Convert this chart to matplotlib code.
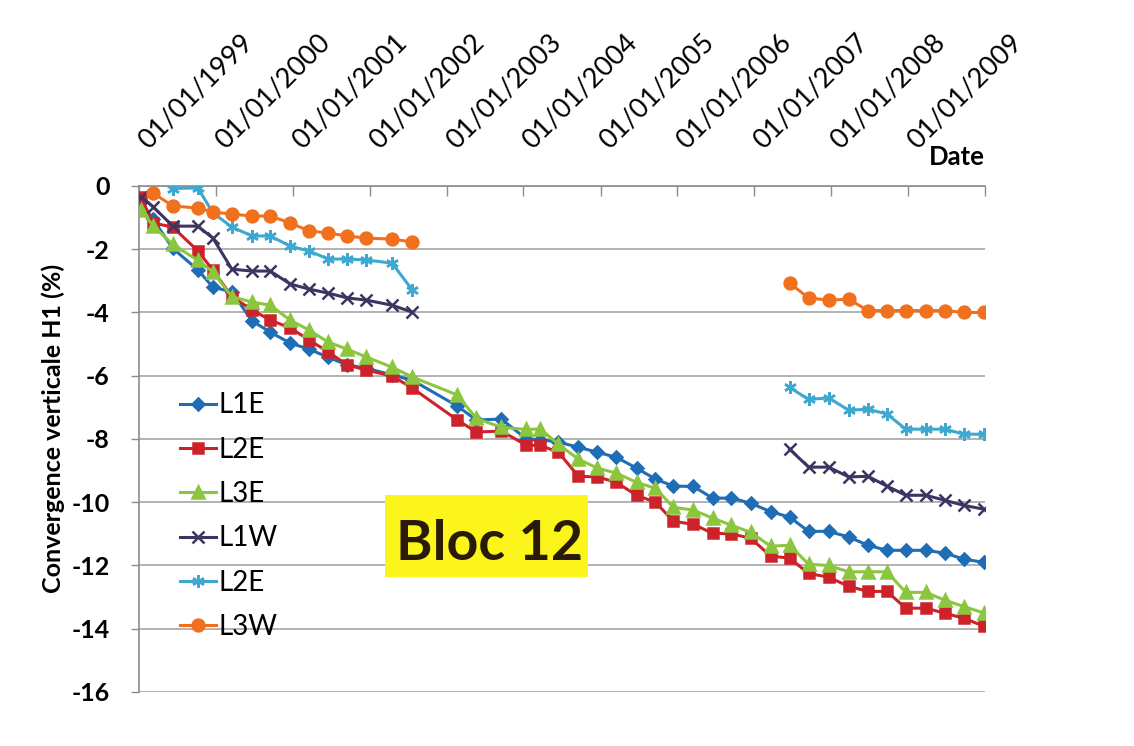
import os

import matplotlib
matplotlib.use("Agg")
import matplotlib.pyplot as plt
import matplotlib.transforms as mtransforms
from matplotlib.font_manager import FontProperties
import numpy as np
import pandas as pd
from matplotlib.patches import Rectangle

plt.rcParams["font.family"] = ["Lato", "DejaVu Sans"]
plt.rcParams["axes.unicode_minus"] = False

nan = np.nan

dates = [
    "1999-01-10", "1999-03-08", "1999-06-10", "1999-10-07", "1999-12-18",
    "2000-03-17", "2000-06-21", "2000-09-15", "2000-12-19",
    "2001-03-19", "2001-06-18", "2001-09-16", "2001-12-16",
    "2002-04-17", "2002-07-22",
    "2003-02-21", "2003-05-22", "2003-09-18",
    "2004-01-15", "2004-03-21", "2004-06-15", "2004-09-18", "2004-12-17",
    "2005-03-17", "2005-06-21", "2005-09-19", "2005-12-13",
    "2006-03-18", "2006-06-17", "2006-09-15", "2006-12-15",
    "2007-03-20", "2007-06-18", "2007-09-16", "2007-12-20",
    "2008-03-25", "2008-06-24", "2008-09-22", "2008-12-21",
    "2009-03-26", "2009-06-25", "2009-09-23", "2009-12-27",
]

l1e = [-0.5, -1.05, -1.97, -2.65, -3.2, -3.35, -4.27, -4.62, -4.97, -5.16, -5.42,
       -5.66, -5.76, -5.98, -6.14, -6.96, -7.4, -7.37, -8.0, -8.02, -8.1, -8.26,
       -8.42, -8.58, -8.92, -9.27, -9.49, -9.5, -9.87, -9.87, -10.03, -10.3,
       -10.47, -10.92, -10.92, -11.1, -11.36, -11.52, -11.52, -11.52, -11.61,
       -11.8, -11.9]
l2e = [-0.35, -1.17, -1.3, -2.05, -2.66, -3.5, -3.92, -4.24, -4.49, -4.87, -5.25,
       -5.66, -5.82, -6.01, -6.39, -7.4, -7.78, -7.75, -8.2, -8.2, -8.42, -9.18,
       -9.2, -9.37, -9.78, -10.0, -10.6, -10.7, -10.98, -11.0, -11.14, -11.7,
       -11.77, -12.25, -12.37, -12.66, -12.82, -12.82, -13.35, -13.35, -13.51,
       -13.67, -13.92]
l3e = [-0.76, -1.25, -1.85, -2.35, -2.72, -3.5, -3.67, -3.77, -4.24, -4.56, -4.94,
       -5.16, -5.41, -5.73, -6.04, -6.61, -7.35, -7.63, -7.7, -7.68, -8.17, -8.64,
       -8.92, -9.08, -9.37, -9.56, -10.16, -10.25, -10.5, -10.73, -10.95, -11.39,
       -11.36, -11.96, -12.0, -12.2, -12.2, -12.2, -12.85, -12.85, -13.1, -13.3,
       -13.5]
gap = [nan] * 17
l1w = ([-0.35, -0.65, -1.27, -1.27, -1.65, -2.63, -2.69, -2.69, -3.1, -3.26,
        -3.39, -3.54, -3.61, -3.77, -3.99] + gap +
       [-8.32, -8.89, -8.89, -9.2, -9.18, -9.49, -9.78, -9.78, -9.94, -10.1, -10.22])
l2e_w = ([nan, nan, -0.08, -0.06, -0.85, -1.3, -1.58, -1.58, -1.9, -2.06, -2.31,
          -2.31, -2.34, -2.44, -3.29] + gap +
         [-6.37, -6.75, -6.7, -7.09, -7.06, -7.21, -7.69, -7.69, -7.69, -7.85, -7.85])
l3w = ([nan, -0.22, -0.63, -0.7, -0.82, -0.89, -0.95, -0.95, -1.17, -1.42, -1.49,
        -1.58, -1.65, -1.68, -1.77] + gap +
       [-3.07, -3.54, -3.61, -3.58, -3.94, -3.94, -3.94, -3.94, -3.94, -4.0, -4.0])

series = [
    ("L1E", l1e, "#1f6db5", "D", 6.5),
    ("L2E", l2e, "#cc2229", "s", 7.5),
    ("L3E", l3e, "#8cc63e", "^", 8),
    ("L1W", l1w, "#3d3461", "x", 8),
    ("L2E", l2e_w, "#3ea8d0", (6, 2, 0), 9),
    ("L3W", l3w, "#f0701e", "o", 8.5),
]

years = list(range(1999, 2011))
year_labels = [f"01/01/{y}" for y in years[:-1]] + [""]
y_ticks = list(range(-16, 1, 2))


def bold_font(size):
    # point straight at the bold face so the weight cannot get lost
    path = "/usr/share/fonts/truetype/google-fonts/Lato-Bold.ttf"
    if os.path.exists(path):
        return FontProperties(fname=path, size=size)
    return FontProperties(family=["Lato", "DejaVu Sans"], weight="bold", size=size)


x = pd.to_datetime(dates)

fig = plt.figure(figsize=(11.34, 7.46), dpi=100)
ax = fig.add_axes([0.1226, 0.0724, 0.746, 0.6783])

for name, vals, col, mk, ms in series:
    ax.plot(x, vals, color=col, lw=2.2, marker=mk, ms=ms, mfc=col, mec=col,
            mew=1.8, label=name, zorder=3)

ax.xaxis.tick_top()
ax.tick_params(axis="x", direction="in", length=7, width=1, color="#8c8c8c",
               pad=26)
ax.tick_params(axis="y", direction="out", length=6, width=1, color="#8c8c8c",
               pad=15)

ax.set_ylim(-16, 0)
ax.set_yticks(y_ticks, labels=[str(v) for v in y_ticks],
              fontproperties=bold_font(18))
ax.set_xlim(pd.Timestamp("1999-01-01"), pd.Timestamp("2010-01-01"))
ax.set_xticks(pd.to_datetime([f"{y}-01-01" for y in years]), labels=year_labels,
              rotation=45, rotation_mode="anchor", ha="left", va="baseline",
              fontsize=19.5)

# slanted date labels, nudged right as in the original
shift = mtransforms.ScaledTranslation(0.09, 0, fig.dpi_scale_trans)
for lab in ax.get_xticklabels():
    lab.set_transform(lab.get_transform() + shift)

ax.grid(axis="y", color="#a6a6a6", lw=1.2, zorder=0)
for s in ("right", "bottom"):
    ax.spines[s].set_visible(False)
for s in ("top", "left"):
    ax.spines[s].set_color("#8c8c8c")
    ax.spines[s].set_linewidth(1.2)

ax.set_ylabel("Convergence verticale H1 (%)", fontproperties=bold_font(18))
ax.yaxis.set_label_coords(-0.087, 0.52)
ax.text(1.0, 1.041, "Date", transform=ax.transAxes, ha="right", va="baseline",
        fontproperties=bold_font(18.5))

ax.legend(loc="upper left", bbox_to_anchor=(0.0485, 0.592), frameon=False,
          fontsize=20, handlelength=1.3, handletextpad=0.1, labelspacing=0.66,
          borderpad=0, borderaxespad=0)

ax.add_patch(Rectangle((0.291, 0.227), 0.24, 0.162, transform=ax.transAxes,
                       facecolor="#fcf51c", edgecolor="none", zorder=4))
ax.text(0.4137, 0.261, "Bloc 12", transform=ax.transAxes, ha="center",
        va="baseline", fontproperties=bold_font(40), color="#2a1a08", zorder=5)

fig.savefig("out.png", dpi=100)
